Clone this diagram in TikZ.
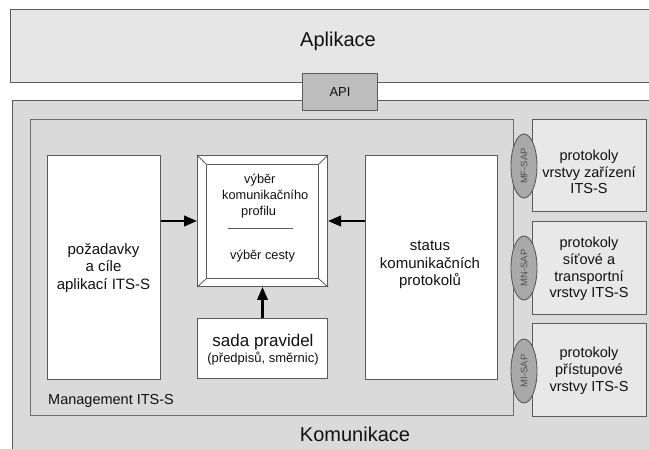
\documentclass[tikz,border=0pt]{standalone}
\usepackage{fontspec}
\setmainfont{Liberation Sans}
\usetikzlibrary{arrows.meta,shapes.geometric}
\definecolor{linegray}{HTML}{5A5A5A}
\definecolor{mgmtline}{HTML}{6E6E6E}
\definecolor{appgray}{HTML}{E6E6E6}
\definecolor{komgray}{HTML}{DADADA}
\definecolor{apigray}{HTML}{BDBDBD}
\definecolor{protgray}{HTML}{E8E8E8}
\definecolor{ellgray}{HTML}{A9A9A9}
\definecolor{txtgray}{HTML}{505050}
\definecolor{txt}{HTML}{111111}
\begin{document}
\begin{tikzpicture}[x=1pt,y=-1pt,
  box/.style={draw=linegray, line width=1pt, rectangle, inner sep=0pt, anchor=north west},
  arr/.style={-{Triangle[length=13pt,width=10.5pt]}, line width=2.3pt, black},
  sap/.style={ellipse, draw=linegray, line width=0.9pt, fill=ellgray, rotate=90,
    minimum width=64pt, minimum height=26pt, inner sep=0pt,
    font=\fontsize{9.5}{9.5}\selectfont, text=txtgray},
  boxtxt/.style={align=center, text=txt, font=\fontsize{15}{17.5}\selectfont, inner sep=0pt},
  prottxt/.style={align=center, text=txt, font=\fontsize{14.5}{16.8}\selectfont, inner sep=0pt},
  smalltxt/.style={anchor=base west, text=txt, font=\fontsize{12.8}{15}\selectfont, inner sep=0pt}
]
\useasboundingbox (0,0) rectangle (649,449);
\fill[white] (0,0) rectangle (649,449);

% Aplikace and Komunikace layers
\node[box, fill=appgray, minimum width=660pt, minimum height=73pt] (app) at (10,9) {};
\node[text=txt, font=\fontsize{20}{20}\selectfont, inner sep=0pt] (apptext) at (338,41) {Aplikace};
\node[box, fill=komgray, minimum width=660pt, minimum height=370pt] (kom) at (12,100) {};
\node[box, fill=apigray, minimum width=75pt, minimum height=37pt] (api) at (302,73) {};
\node[text=txt, font=\fontsize{13}{13}\selectfont, inner sep=0pt] (apitext) at (api.center) {API};
\node[anchor=base, text=txt, font=\fontsize{20}{20}\selectfont, inner sep=0pt] (komtext) at (355,442) {Komunikace};

% Management ITS-S
\node[box, draw=mgmtline, fill=komgray, minimum width=483pt, minimum height=296pt] (mgmt) at (30,119) {};
\node[anchor=base west, text=txt, font=\fontsize{14.5}{14.5}\selectfont, inner sep=0pt] (mgmttext) at (48,405) {Management ITS-S};

\node[box, fill=white, minimum width=113pt, minimum height=224pt] (req) at (47,155) {};
\node[boxtxt] (reqtext) at (103.5,268) {požadavky\\a cíle\\aplikací ITS-S};

\node[box, fill=white, minimum width=132pt, minimum height=224pt] (status) at (365,155) {};
\node[boxtxt] (stattext) at (430,265) {status\\komunikačních\\protokolů};

% bevel box
\node[box, fill=white, minimum width=130pt, minimum height=131pt] (bevel) at (197,155) {};
\node[box, fill=white, minimum width=112pt, minimum height=114pt] (inner) at (206,164) {};
\draw[linegray, line width=0.8pt] (bevel.north west) -- (inner.north west)
  (bevel.north east) -- (inner.north east)
  (bevel.south west) -- (inner.south west)
  (bevel.south east) -- (inner.south east);
\node[smalltxt] (t1) at (244,184) {výběr};
\node[smalltxt] (t2) at (222,200) {komunikačního};
\node[smalltxt] (t3) at (241,216) {profilu};
\coordinate (sepa) at (228,228);
\coordinate (sepb) at (293,228);
\draw[linegray, line width=0.9pt] (sepa) -- (sepb);
\node[smalltxt] (t4) at (230,260) {výběr cesty};

% rules box
\node[box, fill=white, minimum width=130pt, minimum height=60pt] (rules) at (197,318) {};
\node[anchor=base, text=txt, font=\fontsize{17}{17}\selectfont, inner sep=0pt] (rulestext) at (263,347) {sada pravidel};
\node[anchor=base, text=txt, font=\fontsize{13}{13}\selectfont, inner sep=0pt] (rulessub) at (263,363) {(předpisů, směrnic)};

% arrows
\draw[arr] (req.east |- bevel.west) -- (bevel.west);
\draw[arr] (status.west |- bevel.east) -- (bevel.east);
\draw[arr] (rules.north) -- (bevel.south);

% protocol boxes
\node[box, fill=protgray, minimum width=114pt, minimum height=92pt] (pf) at (532,119) {};
\node[prottxt] (pftext) at (589,172) {protokoly\\vrstvy zařízení\\ITS-S};
\node[box, fill=protgray, minimum width=114pt, minimum height=93pt] (pn) at (532,221) {};
\node[prottxt] (pntext) at (589,269) {protokoly\\síťové a\\transportní\\vrstvy ITS-S};
\node[box, fill=protgray, minimum width=114pt, minimum height=93pt] (pi) at (532,323) {};
\node[prottxt] (pitext) at (589,371) {protokoly\\přístupové\\vrstvy ITS-S};

% SAP ellipses
\node[sap] (mf) at (524,166) {MF-SAP};
\node[sap] (mn) at (524,268) {MN-SAP};
\node[sap] (mi) at (524,371) {MI-SAP};
\end{tikzpicture}
\end{document}
